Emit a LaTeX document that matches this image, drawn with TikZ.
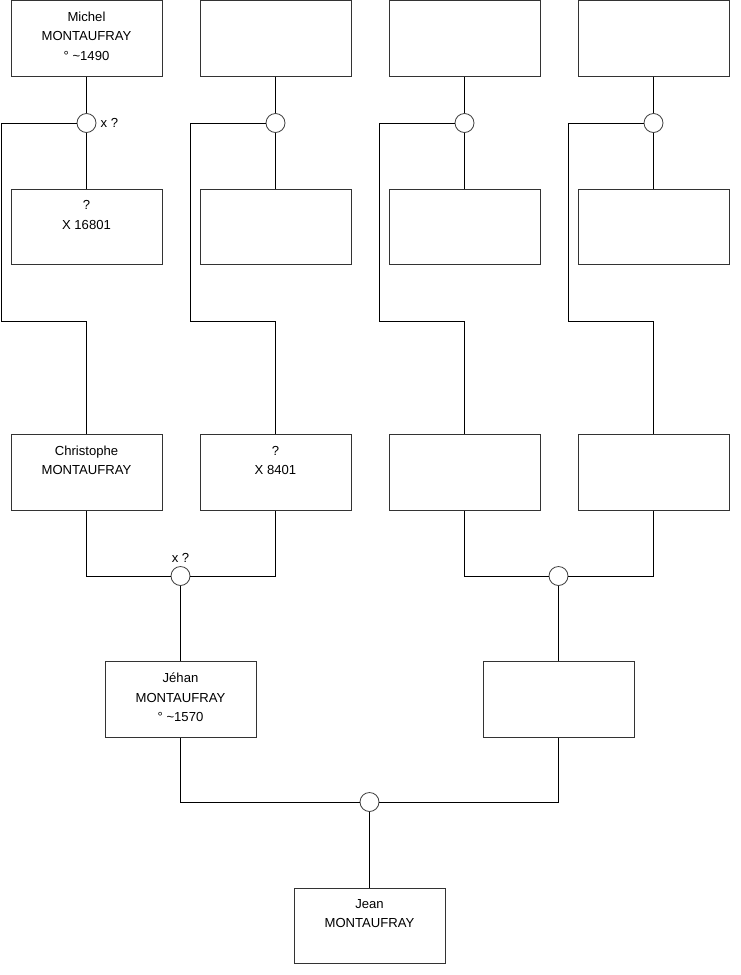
\documentclass[tikz,border=0pt]{standalone}
\usepackage{fontspec}
\setmainfont{Liberation Sans}
\begin{document}
\begin{tikzpicture}[x=1pt,y=-1pt,
  box/.style={draw=black!80,line width=1pt,minimum width=151pt,minimum height=75.5pt,inner sep=0pt,fill=white},
  txt/.style={anchor=north,align=center,inner sep=0pt,font=\fontsize{13.1}{19.5}\selectfont},
  knot/.style={circle,draw=black!75,line width=0.8pt,fill=white,minimum size=19pt,inner sep=0pt},
  lbl/.style={inner sep=0pt,font=\fontsize{13.1}{15}\selectfont},
  conn/.style={line width=1pt,black}]
\useasboundingbox (0,0) rectangle (740,975);
% row 1
\node[box] (b1a) at (86.5,38.5) {};
\node[box] (b1b) at (275.5,38.5) {};
\node[box] (b1c) at (464.5,38.5) {};
\node[box] (b1d) at (653.5,38.5) {};
% row 2
\node[box] (b2a) at (86.5,227) {};
\node[box] (b2b) at (275.5,227) {};
\node[box] (b2c) at (464.5,227) {};
\node[box] (b2d) at (653.5,227) {};
% row 3
\node[box] (b3a) at (86.5,472.5) {};
\node[box] (b3b) at (275.5,472.5) {};
\node[box] (b3c) at (464.5,472.5) {};
\node[box] (b3d) at (653.5,472.5) {};
% row 4
\node[box] (b4l) at (180.5,699.5) {};
\node[box] (b4r) at (558.5,699.5) {};
% row 5
\node[box] (b5) at (369.5,926) {};
% knots
\node[knot] (c1a) at (86.5,123) {};
\node[knot] (c1b) at (275.5,123) {};
\node[knot] (c1c) at (464.5,123) {};
\node[knot] (c1d) at (653.5,123) {};
\node[knot] (c2l) at (180.5,576) {};
\node[knot] (c2r) at (558.5,576) {};
\node[knot] (c3) at (369.5,802) {};
% bend coordinates
\coordinate (ka1) at (1,123);   \coordinate (ka2) at (1,321);
\coordinate (kb1) at (190,123); \coordinate (kb2) at (190,321);
\coordinate (kc1) at (379,123); \coordinate (kc2) at (379,321);
\coordinate (kd1) at (568,123); \coordinate (kd2) at (568,321);
% connectors top generation
\foreach \s in {a,b,c,d}{
  \draw[conn] (b1\s.south) -- (c1\s.north);
  \draw[conn] (c1\s.south) -- (b2\s.north);
  \draw[conn] (c1\s.west) -- (k\s1) -- (k\s2) -| (b3\s.north);
}
% middle generation
\draw[conn] (b3a.south) |- (c2l.west);
\draw[conn] (c2l.east) -| (b3b.south);
\draw[conn] (b3c.south) |- (c2r.west);
\draw[conn] (c2r.east) -| (b3d.south);
\draw[conn] (c2l.south) -- (b4l.north);
\draw[conn] (c2r.south) -- (b4r.north);
% bottom generation
\draw[conn] (b4l.south) |- (c3.west);
\draw[conn] (c3.east) -| (b4r.south);
\draw[conn] (c3.south) -- (b5.north);
% texts
\node[txt] (t1a) at ([yshift=-11.5]b1a.north) {Michel\\MONTAUFRAY\\° \textasciitilde1490};
\node[txt] (t2a) at ([yshift=-11.5]b2a.north) {?\\X 16801};
\node[txt] (t3a) at ([yshift=-11.5]b3a.north) {Christophe\\MONTAUFRAY};
\node[txt] (t3b) at ([yshift=-11.5]b3b.north) {?\\X 8401};
\node[txt] (t4l) at ([yshift=-11.5]b4l.north) {Jéhan\\MONTAUFRAY\\° \textasciitilde1570};
\node[txt] (t5) at ([yshift=-11.5]b5.north) {Jean\\MONTAUFRAY};
\node[lbl,anchor=west] (x1) at ([xshift=4]c1a.east) {x ?};
\node[lbl,anchor=south] (x2) at ([yshift=3]c2l.north) {x ?};
\end{tikzpicture}
\end{document}
